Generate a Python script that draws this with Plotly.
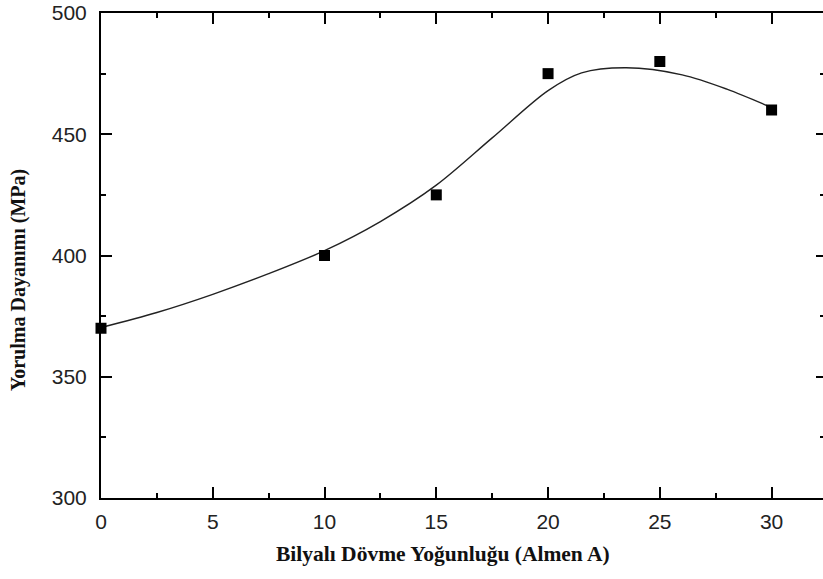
import plotly.graph_objects as go

# Measured fatigue strength vs. shot peening intensity
intensity = [0, 10, 15, 20, 25, 30]
strength = [370, 400, 425, 475, 480, 460]

# Smoothed trend curve values
curve_x = [0, 2.5, 5, 7.5, 10, 12.5, 15, 17.5, 20, 21.5, 23.5, 26, 28, 30]
curve_y = [370.3, 376.5, 384, 392.5, 402, 414, 429, 448.5, 468, 475.3, 477.4,
           474.5, 468.6, 461]

x_ticks = [0, 5, 10, 15, 20, 25, 30]
y_ticks = [300, 350, 400, 450, 500]

x_title = "Bilyalı Dövme Yoğunluğu (Almen A)"
y_title = "Yorulma Dayanımı (MPa)"

tick_font = dict(family="Liberation Sans, Arial, sans-serif", size=21, color="#222")
x_title_font = dict(family="Liberation Serif, Times New Roman, serif", size=21.5, color="#111")
y_title_font = dict(family="Liberation Serif, Times New Roman, serif", size=20, color="#111")

fig = go.Figure()
fig.add_trace(go.Scatter(
    x=curve_x, y=curve_y, mode="lines",
    line=dict(color="#222", width=1.4, shape="spline", smoothing=0.9),
    hoverinfo="skip", showlegend=False,
))
fig.add_trace(go.Scatter(
    x=intensity, y=strength, mode="markers", cliponaxis=False,
    marker=dict(symbol="square", size=11, color="black"),
    showlegend=False,
))
# invisible trace to anchor the right-hand tick axis
fig.add_trace(go.Scatter(
    x=[intensity[0]], y=[strength[0]], yaxis="y2", mode="markers",
    marker=dict(opacity=0), hoverinfo="skip", showlegend=False,
))

axis_common = dict(
    showgrid=False, zeroline=False, ticks="inside",
    tickcolor="black", tickwidth=2, linecolor="black", linewidth=2,
    tickfont=tick_font,
)

fig.update_layout(
    width=823, height=579,
    margin=dict(l=101, r=0, t=13, b=81),
    paper_bgcolor="white", plot_bgcolor="white",
    xaxis=dict(
        range=[0, 32.3], tickvals=x_ticks, ticklen=11, showline=True,
        mirror="ticks", ticklabelstandoff=4,
        minor=dict(dtick=2.5, tick0=0, ticks="inside", ticklen=5,
                   tickwidth=2, tickcolor="black"),
        **axis_common,
    ),
    yaxis=dict(
        range=[300, 500], tickvals=y_ticks, ticklen=11, showline=True,
        mirror=False, ticklabelstandoff=8,
        minor=dict(dtick=25, tick0=300, ticks="inside", ticklen=5,
                   tickwidth=2, tickcolor="black"),
        **axis_common,
    ),
    yaxis2=dict(
        overlaying="y", side="right", range=[300, 500], tickvals=y_ticks,
        ticks="inside", ticklen=7, tickwidth=2, tickcolor="black",
        showline=False, showgrid=False, zeroline=False, showticklabels=False,
        minor=dict(dtick=25, tick0=300, ticks="inside", ticklen=3,
                   tickwidth=2, tickcolor="black"),
    ),
    annotations=[
        dict(text="<b>" + x_title + "</b>", xref="paper", yref="paper",
             x=(443 - 101) / 722, y=-(554 - 498) / 485, xanchor="center",
             yanchor="middle", showarrow=False, font=x_title_font),
        dict(text="<b>" + y_title + "</b>", xref="paper", yref="paper",
             x=-(101 - 18) / 722, y=(498 - 280) / 485, xanchor="center",
             yanchor="middle", textangle=-90, showarrow=False, font=y_title_font),
    ],
)

fig.write_html("out.html")
